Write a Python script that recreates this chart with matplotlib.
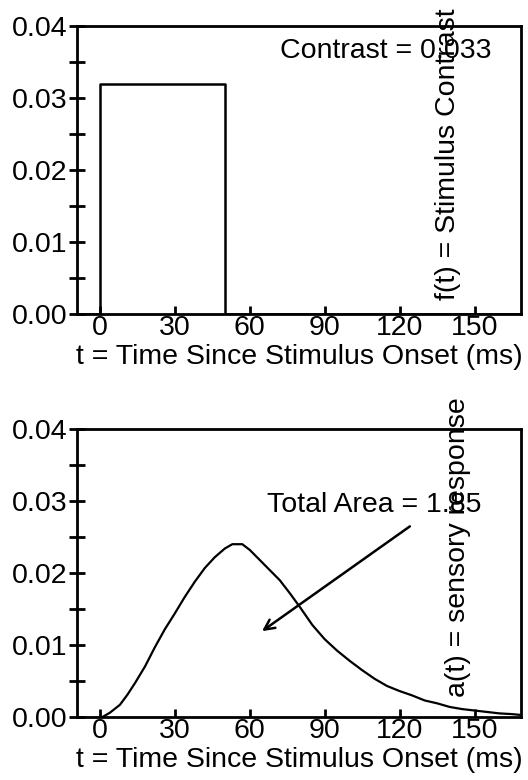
import matplotlib
matplotlib.use("Agg")
import matplotlib.pyplot as plt
from matplotlib.ticker import MultipleLocator

plt.rcParams['font.family'] = ['Liberation Sans', 'DejaVu Sans']

# Stimulus (top panel)
stim_t = [-10, 0, 0, 50, 50, 170]
stim_f = [0.0, 0.0, 0.032, 0.032, 0.0, 0.0]
contrast_label = "Contrast = 0.033"

# Sensory response (bottom panel)
resp_t = [1, 4, 8, 11, 14, 18, 22, 26, 30, 34, 38, 42, 46, 50, 53, 57, 60, 64,
          68, 72, 76, 80, 85, 90, 95, 100, 105, 110, 115, 120, 125, 130, 135,
          140, 145, 150, 155, 160, 165, 168]
resp_a = [0.0, 0.0006, 0.0017, 0.0031, 0.0047, 0.0070, 0.0097, 0.0122, 0.0144,
          0.0167, 0.0188, 0.0207, 0.0222, 0.0234, 0.0240, 0.0240, 0.0232, 0.0218,
          0.0204, 0.0190, 0.0172, 0.0153, 0.0128, 0.0108, 0.0092, 0.0078, 0.0065,
          0.0053, 0.0043, 0.0036, 0.0030, 0.0023, 0.0019, 0.0014, 0.0011, 0.0009,
          0.0007, 0.0005, 0.0004, 0.0003]
area_label = "Total Area = 1.85"

xticks = [0, 30, 60, 90, 120, 150]
yticks = [0.00, 0.01, 0.02, 0.03, 0.04]
xlabel = "t = Time Since Stimulus Onset (ms)"

FS = 20.5
W, H = 528, 780
fig = plt.figure(figsize=(W / 100, H / 100), dpi=100)

def make_ax(top_px, bottom_px):
    left, right = 77, 521
    ax = fig.add_axes([left / W, 1 - bottom_px / H, (right - left) / W, (bottom_px - top_px) / H])
    ax.set_xlim(-9.2, 168.6)
    ax.set_ylim(0, 0.04)
    for s in ax.spines.values():
        s.set_linewidth(2)
    ax.set_xticks(xticks)
    ax.set_yticks(yticks)
    ax.set_yticklabels([f"{v:.2f}" for v in yticks])
    ax.yaxis.set_minor_locator(MultipleLocator(0.005))
    ax.tick_params(axis='y', which='both', direction='inout', length=12, width=2,
                   labelsize=FS, pad=1)
    ax.tick_params(axis='x', which='major', direction='in', length=6, width=2,
                   labelsize=FS, pad=1)
    ax.set_xlabel(xlabel, fontsize=FS, labelpad=2)
    return ax

ax1 = make_ax(26, 314)
ax1.plot(stim_t, stim_f, color='black', lw=1.8)
ax1.text(72, 0.0365, contrast_label, fontsize=FS, ha='left', va='center')
ax1.text(139.2, 0.0019, "f(t) = Stimulus Contrast", fontsize=FS, rotation=90,
         ha='center', va='bottom')

ax2 = make_ax(429, 717)
ax2.plot(resp_t, resp_a, color='black', lw=1.6)
ax2.text(67, 0.0294, area_label, fontsize=FS, ha='left', va='center')
ax2.annotate("", xy=(64, 0.0117), xytext=(125, 0.0267),
             arrowprops=dict(arrowstyle='->', color='black', lw=1.8, mutation_scale=18))
ax2.text(143.2, 0.0028, "a(t) = sensory response", fontsize=FS, rotation=90,
         ha='center', va='bottom')

fig.savefig("out.png", dpi=100)
